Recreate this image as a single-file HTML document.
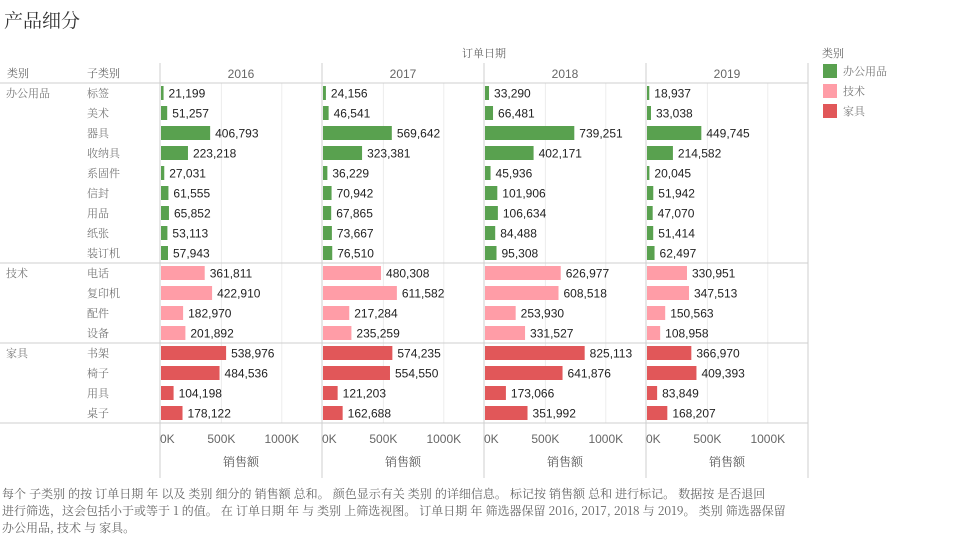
<!DOCTYPE html>
<html><head><meta charset="utf-8">
<style>
body{margin:0;background:#fff;width:960px;height:538px;overflow:hidden;font-family:"Liberation Sans","Noto Serif CJK SC","Noto Sans CJK SC",sans-serif;}
svg text{font-family:"Liberation Sans","Noto Serif CJK SC",sans-serif;}
.cn{font-family:"Noto Serif CJK SC","Noto Sans CJK SC",serif;}
</style></head><body>
<svg id="c" width="960" height="538" xmlns="http://www.w3.org/2000/svg">
<text class="cn" x="4" y="27" font-size="19" fill="#333">产品细分</text>
<text class="cn" x="484" y="57" font-size="11" fill="#666" text-anchor="middle">订单日期</text>
<text class="cn" x="7" y="77" font-size="11" fill="#666">类别</text>
<text class="cn" x="87" y="77" font-size="11" fill="#666">子类别</text>
<g id="grid"></g>
<g id="marks"></g>
<text class="cn" x="822" y="57" font-size="11" fill="#666">类别</text>
<g id="legend"></g>
<text class="cn" font-size="12" fill="#666">
<tspan x="2" y="498">每个 子类别 的按 订单日期 年 以及 类别 细分的 销售额 总和。 颜色显示有关 类别 的详细信息。 标记按 销售额 总和 进行标记。 数据按 是否退回</tspan>
<tspan x="2" y="515">进行筛选，这会包括小于或等于 1 的值。 在 订单日期 年 与 类别 上筛选视图。 订单日期 年 筛选器保留 2016, 2017, 2018 与 2019。 类别 筛选器保留</tspan>
<tspan x="2" y="532">办公用品, 技术 与 家具。</tspan>
</text>
</svg>
<script>
const years=["2016","2017","2018","2019"];
const categories=["办公用品","技术","家具"];
const subcats=["标签","美术","器具","收纳具","系固件","信封","用品","纸张","装订机","电话","复印机","配件","设备","书架","椅子","用具","桌子"];
const subcatCategory=[0,0,0,0,0,0,0,0,0,1,1,1,1,2,2,2,2];
const sales2016=[21199,51257,406793,223218,27031,61555,65852,53113,57943,361811,422910,182970,201892,538976,484536,104198,178122];
const sales2017=[24156,46541,569642,323381,36229,70942,67865,73667,76510,480308,611582,217284,235259,574235,554550,121203,162688];
const sales2018=[33290,66481,739251,402171,45936,101906,106634,84488,95308,626977,608518,253930,331527,825113,641876,173066,351992];
const sales2019=[18937,33038,449745,214582,20045,51942,47070,51414,62497,330951,347513,150563,108958,366970,409393,83849,168207];
const ticks=[0,500000,1000000];
const tickLabels=["0K","500K","1000K"];
const colors=["#59a14f","#ff9da7","#e15759"];
const series=[sales2016,sales2017,sales2018,sales2019];
const NS="http://www.w3.org/2000/svg";
const panelX0=160,panelW=162,rowTop=83,rowH=20;
function xs(p,v){return panelX0+p*panelW+1+v*0.0001208;}
function ys(i){return rowTop+i*rowH;}
function mk(tag,attrs,parent,txt){const e=document.createElementNS(NS,tag);for(const k in attrs)e.setAttribute(k,attrs[k]);if(txt!==undefined)e.textContent=txt;parent.appendChild(e);return e;}
const grid=document.getElementById('grid'),marks=document.getElementById('marks'),legend=document.getElementById('legend');
for(let p=0;p<4;p++){for(let t=1;t<ticks.length;t++){const x=xs(p,ticks[t]);const l=mk('line',{x1:x,x2:x,y1:83,y2:423,stroke:'#ececec'},grid);

}}
[[0,83,808],[0,263,808],[0,343,808],[0,423,808]].forEach(a=>{const l=mk('line',{x1:a[0],x2:a[2],y1:a[1],y2:a[1],stroke:'#cfcfcf'},grid);

});
for(let p=0;p<=4;p++){const x=panelX0+p*panelW;const l=mk('line',{x1:x,x2:x,y1:63,y2:478,stroke:'#cfcfcf'},grid);

}
years.forEach((y,p)=>{const t=mk('text',{x:panelX0+p*panelW+81,y:78,'font-size':12,fill:'#666','text-anchor':'middle'},grid,y);


ticks.forEach((tv,k)=>{const tt=mk('text',{x:k==0?xs(p,tv)-1:xs(p,tv),y:443,'font-size':12,fill:'#666','text-anchor':k==0?'start':'middle'},grid,tickLabels[k]);

});
const at=mk('text',{x:panelX0+p*panelW+81,y:466,'font-size':12,fill:'#555','text-anchor':'middle',class:'cn'},grid,'销售额');

});
categories.forEach((c,ci)=>{const i=subcatCategory.indexOf(ci);const t=mk('text',{x:6,y:ys(i)+14,'font-size':11,fill:'#777',class:'cn'},grid,c);

});
subcats.forEach((s,i)=>{const t=mk('text',{x:87,y:ys(i)+14,'font-size':11,fill:'#777',class:'cn'},grid,s);

});
series.forEach((vals,p)=>{vals.forEach((v,i)=>{const x0=xs(p,0),x1=xs(p,v);const col=colors[subcatCategory[i]];
const r=mk('rect',{x:x0,y:ys(i)+3,width:Math.max(1,x1-x0),height:14,fill:col},marks);


const t=mk('text',{x:x1+5,y:ys(i)+14.5,'font-size':12,fill:'#222'},marks,v.toLocaleString('en-US'));

});});
categories.forEach((c,k)=>{const r=mk('rect',{x:823,y:64+k*20,width:14,height:14,fill:colors[k]},legend);


const t=mk('text',{x:843,y:75+k*20,'font-size':11,fill:'#777',class:'cn'},legend,c);

});
</script>
</body></html>
